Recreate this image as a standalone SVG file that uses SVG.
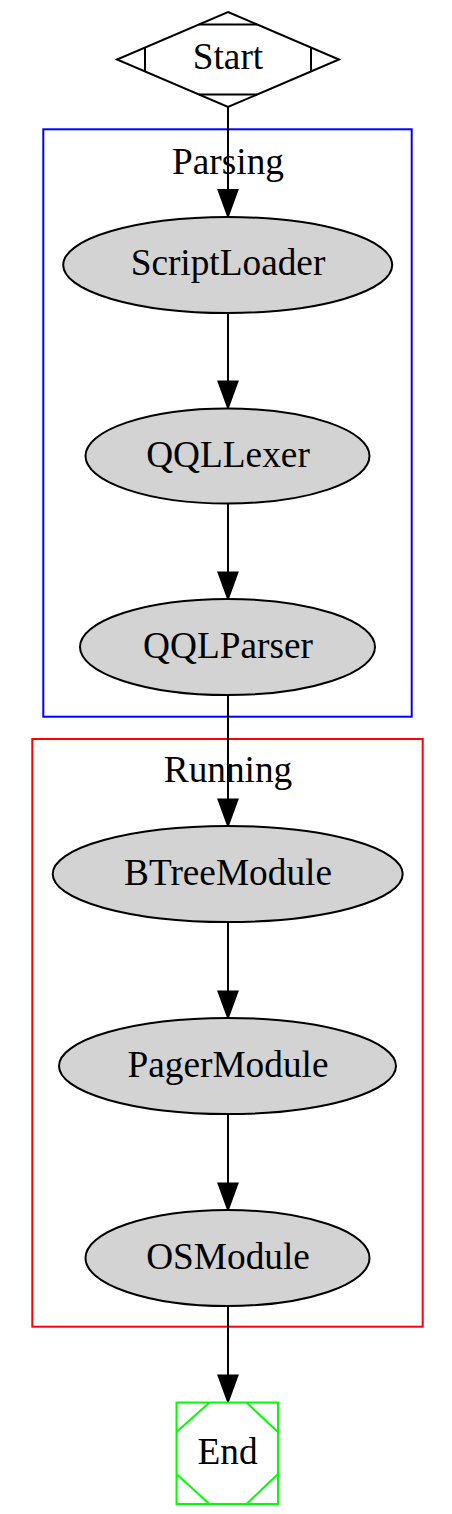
<svg xmlns="http://www.w3.org/2000/svg" width="452" height="1514" viewBox="0 0 452 1514">
<style>
text{font-family:"Liberation Serif","Times New Roman",serif;font-size:37.3px;text-anchor:middle;fill:#000}
.n{fill:#d3d3d3;stroke:#000;stroke-width:2}
.e{fill:none;stroke:#000;stroke-width:2}
.c{fill:none;stroke-width:2}
</style>
<defs>
<marker id="ah" markerUnits="userSpaceOnUse" markerWidth="30" markerHeight="24" refX="27" refY="11" orient="auto" overflow="visible">
<path d="M1,1.5 L27,11 L1,20.5 z" fill="#000" stroke="#000" stroke-width="2"/>
</marker>
</defs>
<rect width="452" height="1514" fill="#fff"/>
<g id="cluster_parsing">
<rect class="c" x="43.3" y="129.3" width="368.4" height="587.4" stroke="#0000ff"/>
<text x="228" y="173.5">Parsing</text>
</g>
<g id="cluster_running">
<rect class="c" x="32.3" y="739" width="390.4" height="587.7" stroke="#ff0000"/>
<text x="228" y="782">Running</text>
</g>
<g id="edges">
<path class="e" d="M228,107 L228,216" marker-end="url(#ah)"/>
<path class="e" d="M228,313 L228,407.5" marker-end="url(#ah)"/>
<path class="e" d="M228,503.5 L228,598.5" marker-end="url(#ah)"/>
<path class="e" d="M228,695 L228,825.5" marker-end="url(#ah)"/>
<path class="e" d="M228,922 L228,1017.5" marker-end="url(#ah)"/>
<path class="e" d="M228,1114 L228,1209.5" marker-end="url(#ah)"/>
<path class="e" d="M228,1306 L228,1401.5" marker-end="url(#ah)"/>
</g>
<g id="Start">
<polygon points="228,12 339,59.5 228,107 117,59.5" fill="#fff" stroke="#000" stroke-width="2"/>
<path d="M199,24.4 H257 M199,94.6 H257 M145,47.5 V71.5 M311,47.5 V71.5" fill="none" stroke="#000" stroke-width="2"/>
<text x="228" y="69">Start</text>
</g>
<g id="ScriptLoader">
<ellipse class="n" cx="227.7" cy="265" rx="164.5" ry="48"/>
<text x="228" y="275">ScriptLoader</text>
</g>
<g id="QQLLexer">
<ellipse class="n" cx="227.5" cy="456" rx="142" ry="47.5"/>
<text x="228" y="466.5">QQLLexer</text>
</g>
<g id="QQLParser">
<ellipse class="n" cx="227.5" cy="647" rx="147.5" ry="48"/>
<text x="228" y="657.5">QQLParser</text>
</g>
<g id="BTreeModule">
<ellipse class="n" cx="227.7" cy="874" rx="175" ry="48"/>
<text x="228" y="884.5">BTreeModule</text>
</g>
<g id="PagerModule">
<ellipse class="n" cx="227.5" cy="1066" rx="168.5" ry="48"/>
<text x="228" y="1076.5">PagerModule</text>
</g>
<g id="OSModule">
<ellipse class="n" cx="227.5" cy="1258" rx="142" ry="48"/>
<text x="228" y="1268.5">OSModule</text>
</g>
<g id="End">
<rect x="176.5" y="1402.5" width="101.5" height="101.5" fill="#fff" stroke="#00ff00" stroke-width="2"/>
<path d="M176.5,1432 L209.5,1402.5 M246.5,1402.5 L278,1432 M176.5,1474 L209.5,1504 M246.5,1504 L278,1474" fill="none" stroke="#00ff00" stroke-width="2"/>
<text x="227.5" y="1463.5">End</text>
</g>
</svg>
